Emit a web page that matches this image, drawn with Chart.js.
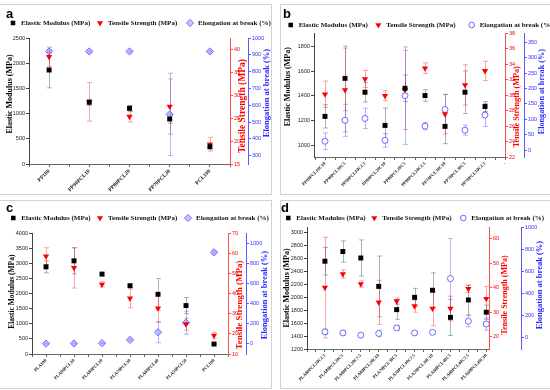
<!DOCTYPE html>
<html><head><meta charset="utf-8">
<script src="https://cdn.jsdelivr.net/npm/chart.js@4/dist/chart.umd.min.js"></script>
<style>
html,body{margin:0;padding:0;background:#fff;width:550px;height:390px;overflow:hidden;position:relative}
.frame{position:absolute;border:1px solid #d2d2d2;box-sizing:border-box;}
canvas{position:absolute}
.lbl{position:absolute;font:bold 13px "Liberation Sans",Arial,sans-serif;color:#000;line-height:1}
</style></head><body>
<div class="frame" style="left:-1px;top:4px;width:273px;height:191px"></div>
<div class="frame" style="left:280px;top:4px;width:272px;height:191px"></div>
<div class="frame" style="left:-1px;top:200px;width:273px;height:189px"></div>
<div class="frame" style="left:280px;top:200px;width:272px;height:189px"></div>
<canvas id="ca" width="271" height="190" style="left:0;top:4px"></canvas>
<canvas id="cb" width="270" height="190" style="left:280px;top:4px"></canvas>
<canvas id="cc" width="271" height="188" style="left:0;top:200px"></canvas>
<canvas id="cd" width="270" height="188" style="left:280px;top:200px"></canvas>
<div class="lbl" style="left:6px;top:7px">a</div>
<div class="lbl" style="left:283px;top:7px">b</div>
<div class="lbl" style="left:6px;top:201px">c</div>
<div class="lbl" style="left:281px;top:201px">d</div>
<script>
// ---------- DATA ----------
const seriesNames = ['Elastic Modulus (MPa)', 'Tensile Strength (MPa)', 'Elongation at break (%)'];

const catsA = ['PP100','PP90PCL10','PP80PCL20','PP70PCL30','PCL100'];
const modA = [1865, 1225, 1105, 893, 343];
const modErrA = [355, 60, 55, 85, 45];
const tsA = [38.3, 28.5, 25.3, 27.5, 19.3];
const tsErrA = [2.1, 4.2, 1.2, 6, 1.5];
const elA = [920, 920, 920, 545, 920];
const elErrA = [8, 5, 5, 245, 5];

const catsB = ['PP90PCL10C10','PP90PCL10C5','PP90PCL10C2.5','PP80PCL20C10','PP80PCL20C5','PP80PCL20C2.5','PP70PCL30C10','PP70PCL30C5','PP70PCL30C2.5','-'];
const modB = [1234, 1542, 1430, 1161, 1462, 1403, 1153, 1430, 1314];
const modErrB = [94, 262, 80, 141, 107, 47, 140, 173, 40];
const tsB = [30.1, 30.65, 32.07, 29.91, 30.65, 33.46, 27.53, 31.3, 33.11];
const tsErrB = [1.7, 5.4, 1.1, 0.65, 5.1, 0.7, 2.55, 2.6, 1.25];
const elB = [29, 97, 103, 32, 177, 78, 132, 65, 114];
const elErrB = [27, 52, 33, 22, 158, 12, 49, 16, 37];

const catsC = ['PLA100','PLA90PCL10','PLA80PCL20','PLA70PCL30','PLA60PCL40','PLA50PCL50','PCL100'];
const modC = [2882, 3080, 2641, 2258, 1973, 1600, 329];
const modErrC = [200, 430, 50, 50, 520, 265, 30];
const tsC = [58.5, 52.7, 44.5, 37.6, 32.7, 24.8, 19.2];
const tsErrC = [4.2, 10, 1.3, 4.7, 7, 3, 1.6];
const elC = [3, 5, 8, 41, 117, 212, 913];
const elErrC = [5, 5, 5, 8, 105, 115, 10];

const catsD = ['PLA80PCL20C2.5','PLA80PCL20C5','PLA80PCL20C7.5','PLA80PCL20C10','PLA70PCL30C5','PLA70PCL30C7.5','PLA70PCL30C10','PLA60PCL40C5','PLA60PCL40C7.5','PLA60PCL40C10'];
const modD = [2560, 2710, 2610, 2170, 1810, 2000, 2110, 1690, 1960, 1770];
const modErrD = [215, 165, 280, 470, 150, 140, 270, 280, 230, 110];
const tsD = [40, 45.5, 41.5, 34, 34.5, 32.5, 31.5, 31.5, 39.5, 35.5];
const tsErrD = [20.5, 1.7, 1.3, 9, 1.3, 2.5, 7, 5, 1.5, 5];
const elD = [55, 45, 25, 40, 90, 45, 50, 535, 150, 125];
const elErrD = [25, 20, 5, 30, 20, 15, 15, 360, 50, 55];

// axis ranges and tick steps: [min, max, step]
const axesA = {x:[0.5,5.5], yL:[0,2500,500], yR:[15,42.4,5], yB:[250,1000,100]};
const axesB = {x:[0.45,10], yL:[905,1910,200], yR:[22,38,2], yB:[-22,380,50]};
const axesC = {x:[0.5,7.5], yL:[0,4000,500], yR:[10,70,10], yB:[-100,1105,200]};
const axesD = {x:[0,10.15], yL:[1200,3090,200], yR:[15,64.7,10], yB:[-100,1000,200]};

// ---------- STYLE / LAYOUT ----------
const BLACK = '#000000', RED = '#ff0000', BLUE = '#6b6bff';
const SERIF = '"Liberation Serif","Times New Roman",serif';
const SANS = '"Liberation Sans",Arial,sans-serif';

const panels = [
  {canvas:'ca', cats:catsA, mod:modA, modErr:modErrA, ts:tsA, tsErr:tsErrA, el:elA, elErr:elErrA, ax:axesA,
   elStyle:'rectRot', top:34, wl:29, wr:18, wb:23, xh:30, xfs:5.5,
   legend:{y:19, mk:[13,100,190]},
   titles:[[10,90,8],[243,102,9.5],[267,89,8.5]]},
  {canvas:'cb', cats:catsB, mod:modB, modErr:modErrB, ts:tsB, tsErr:tsErrB, el:elB, elErr:elErrB, ax:axesB,
   elStyle:'circle', top:29, wl:34, wr:19, wb:26, xh:37, xfs:4.5,
   legend:{y:21, mk:[10.7,98.3,191.7]},
   titles:[[7.7,82.7,8],[237.3,102.7,8.2],[261.7,87.7,8.2]]},
  {canvas:'cc', cats:catsC, mod:modC, modErr:modErrC, ts:tsC, tsErr:tsErrC, el:elC, elErr:elErrC, ax:axesC,
   elStyle:'rectRot', top:33, wl:32, wr:18, wb:25, xh:34, xfs:4.5,
   legend:{y:18, mk:[13.3,100,188]},
   titles:[[11.7,91.7,7.5],[239.3,105,9],[265,95,8.5]]},
  {canvas:'cd', cats:catsD, mod:modD, modErr:modErrD, ts:tsD, tsErr:tsErrD, el:elD, elErr:elErrD, ax:axesD,
   elStyle:'circle', top:27, wl:27, wr:32, wb:29, xh:39, xfs:4.5,
   legend:{y:18, mk:[8.3,94.3,183.3]},
   titles:[[6.7,88,8],[225,95,8],[260,85,8.5]]}
];

function tickList(min, max, step) {
  const out = [];
  for (let k = Math.ceil(min / step - 1e-9); k * step <= max + 1e-9; k++) out.push({value: Math.round(k * step * 1000) / 1000});
  return out;
}

function marker(ctx, kind, x, y, r, fill, stroke) {
  ctx.beginPath();
  if (kind === 'rect') { const s = r * Math.SQRT1_2; ctx.rect(x - s, y - s, 2 * s, 2 * s); }
  else if (kind === 'tri') { ctx.moveTo(x - r * 0.866, y - r * 0.5); ctx.lineTo(x + r * 0.866, y - r * 0.5); ctx.lineTo(x, y + r); ctx.closePath(); }
  else if (kind === 'rectRot') { ctx.moveTo(x, y - r); ctx.lineTo(x + r, y); ctx.lineTo(x, y + r); ctx.lineTo(x - r, y); ctx.closePath(); }
  else { ctx.arc(x, y, r, 0, Math.PI * 2); }
  if (fill) { ctx.fillStyle = fill; ctx.fill(); }
  if (stroke) { ctx.strokeStyle = stroke; ctx.lineWidth = 1; ctx.stroke(); }
}

const errorBars = {
  id: 'errorBars',
  beforeDatasetsDraw(chart) {
    const ctx = chart.ctx;
    chart.data.datasets.forEach(ds => {
      if (!ds.errs) return;
      const xs = chart.scales.x, ys = chart.scales[ds.yAxisID];
      ctx.save();
      ctx.strokeStyle = ds.errColor; ctx.lineWidth = 1;
      ds.data.forEach((p, i) => {
        const e = ds.errs[i]; if (e == null) return;
        const px = Math.round(xs.getPixelForValue(p.x)) + 0.5;
        const y1 = ys.getPixelForValue(p.y + e), y2 = ys.getPixelForValue(p.y - e);
        ctx.beginPath();
        ctx.moveTo(px, y1); ctx.lineTo(px, y2);
        ctx.moveTo(px - 2.5, y1); ctx.lineTo(px + 2.5, y1);
        ctx.moveTo(px - 2.5, y2); ctx.lineTo(px + 2.5, y2);
        ctx.stroke();
      });
      ctx.restore();
    });
  }
};

const decorations = {
  id: 'decorations',
  afterDraw(chart, args, opts) {
    const P = opts.panel, ctx = chart.ctx;
    ctx.save();
    const cols = [BLACK, RED, '#2a2aff'];
    ctx.textAlign = 'center'; ctx.textBaseline = 'middle';
    P.titles.forEach((t, i) => {
      ctx.save(); ctx.translate(t[0], t[1]); ctx.rotate(-Math.PI / 2);
      ctx.font = 'bold ' + t[2] + 'px ' + SERIF;
      ctx.fillStyle = cols[i]; ctx.fillText(seriesNames[i], 0, 0); ctx.restore();
    });
    const y = P.legend.y;
    ctx.font = 'bold 7px ' + SERIF; ctx.textAlign = 'left';
    P.legend.mk.forEach((mx, i) => {
      if (i === 0) marker(ctx, 'rect', mx, y, 3.2, BLACK);
      else if (i === 1) marker(ctx, 'tri', mx, y, 3.5, RED);
      else if (P.elStyle === 'circle') marker(ctx, 'circle', mx, y, 2.8, '#fff', BLUE);
      else marker(ctx, 'rectRot', mx, y, 3.5, 'rgba(150,150,255,0.55)', BLUE);
      ctx.fillStyle = '#111';
      ctx.fillText(seriesNames[i], mx + 8, y + 0.5);
    });
    ctx.restore();
  }
};

function makeChart(P) {
  const ds = [
    {label: seriesNames[0], data: P.mod.map((v, i) => ({x: i + 1, y: v})), yAxisID: 'y',
     pointStyle: 'rect', pointRadius: 3.5, backgroundColor: BLACK, borderColor: BLACK, borderWidth: 0,
     errs: P.modErr, errColor: 'rgba(0,0,0,0.3)'},
    {label: seriesNames[1], data: P.ts.map((v, i) => ({x: i + 1, y: v})), yAxisID: 'yR',
     pointStyle: 'triangle', pointRotation: 180, pointRadius: 3.6, backgroundColor: RED, borderColor: RED, borderWidth: 0,
     errs: P.tsErr, errColor: 'rgba(255,0,0,0.35)'},
    {label: seriesNames[2], data: P.el.map((v, i) => ({x: i + 1, y: v})), yAxisID: 'yB',
     pointStyle: P.elStyle, pointRadius: P.elStyle === 'circle' ? 3 : 3.6,
     backgroundColor: P.elStyle === 'circle' ? '#ffffff' : 'rgba(150,150,255,0.55)', borderColor: BLUE, borderWidth: 1,
     errs: P.elErr, errColor: 'rgba(70,70,255,0.4)'}
  ];
  const tickFont = {family: SANS, size: 5.5};
  const yAxis = (lim, pos, col, w, weight, lineCol) => ({
    type: 'linear', position: pos, weight: weight, min: lim[0], max: lim[1],
    afterBuildTicks: s => { s.ticks = tickList(lim[0], lim[1], lim[2]); },
    ticks: {font: tickFont, color: col, padding: 1, callback: v => String(v)},
    grid: {drawOnChartArea: false, drawTicks: true, tickLength: 3, color: lineCol},
    border: {color: lineCol, width: 1},
    afterFit: s => { s.width = w; }
  });
  return new Chart(document.getElementById(P.canvas), {
    type: 'scatter',
    data: {datasets: ds},
    options: {
      responsive: false, animation: false, devicePixelRatio: 1,
      layout: {padding: {top: P.top, left: 0, right: 0, bottom: 0}},
      plugins: {legend: {display: false}, tooltip: {enabled: false}, decorations: {panel: P}},
      scales: {
        x: {type: 'linear', position: 'bottom', min: P.ax.x[0], max: P.ax.x[1],
            afterBuildTicks: s => { s.ticks = tickList(P.ax.x[0], P.ax.x[1], 0.5); },
            ticks: {autoSkip: false, minRotation: 45, maxRotation: 45, padding: 1,
                    font: {family: SERIF, weight: 'bold', size: P.xfs}, color: '#111',
                    callback: v => (Number.isInteger(v) && P.cats[v - 1] !== undefined) ? P.cats[v - 1] : ''},
            grid: {drawOnChartArea: false, drawTicks: true, tickLength: 3, color: '#666'},
            border: {color: '#666'},
            afterFit: s => { s.height = P.xh; }},
        y: yAxis(P.ax.yL, 'left', '#222', P.wl, 0, '#444'),
        yR: yAxis(P.ax.yR, 'right', RED, P.wr, 1, '#ff5050'),
        yB: yAxis(P.ax.yB, 'right', '#3030ff', P.wb, 2, '#5a5aff')
      }
    },
    plugins: [errorBars, decorations]
  });
}
panels.forEach(makeChart);
</script>
</body></html>
